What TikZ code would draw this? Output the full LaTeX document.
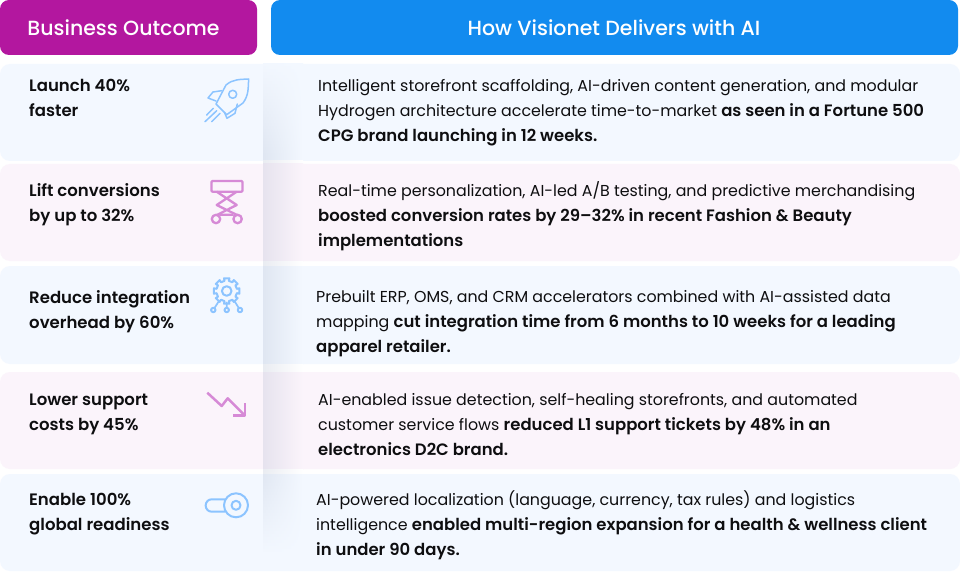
\documentclass[tikz,border=0pt]{standalone}
\usepackage{fontspec}
\setmainfont{Poppins}[BoldFont={Poppins SemiBold},BoldFeatures={Scale=1.04}]
\newfontfamily\headfont{Poppins Medium}
\definecolor{headpurple}{HTML}{B3179F}
\definecolor{headblue}{HTML}{128BEF}
\definecolor{rowblue}{HTML}{F3F8FF}
\definecolor{rowpink}{HTML}{FBF4FB}
\definecolor{iconblue}{HTML}{8CC4FF}
\definecolor{iconpink}{HTML}{D68AD6}
\definecolor{ink}{HTML}{0E0E10}
\definecolor{shadowc}{HTML}{8090B0}
% opaque shadow slices over one background band: from y #1 to y #2, background colour #3
\newcommand{\shadowband}[3]{%
  \pgfmathtruncatemacro{\nslices}{ceil((#2-#1)/3)-1}%
  \foreach \k in {0,...,\nslices}{
    \pgfmathsetmacro{\ya}{#1+3*\k}
    \pgfmathsetmacro{\yb}{min(\ya+3.4,#2)}
    \pgfmathsetmacro{\vv}{max(0,min(1,min((\ya+1.5-60)/95,(555-\ya-1.5)/85)))}
    \pgfmathsetmacro{\aa}{17*\vv}
    \pgfmathsetmacro{\bb}{4.5*\vv}
    \shade[left color=shadowc!\aa!#3,middle color=shadowc!\bb!#3,right color=#3]
      (263,\ya) rectangle (303,\yb);
  }%
}
\tikzset{
  x=1pt,y=-1pt,
  headbox/.style={rounded corners=9pt},
  rowbox/.style={rounded corners=10pt},
  headtext/.style={text=white,font=\headfont\fontsize{20.5}{24}\selectfont,inner sep=0pt},
  lefttext/.style={text=ink,anchor=north west,align=left,inner sep=0pt,font=\fontsize{15.9}{25}\selectfont\bfseries},
  righttext/.style={text=ink,anchor=north west,align=left,inner sep=0pt,font=\fontsize{15.85}{25}\selectfont},
  iconb/.style={draw=iconblue,line width=1.7pt,line join=round,line cap=round,fill=none},
  iconp/.style={draw=iconpink,line width=2.3pt,line join=round,fill=none},
}
\begin{document}
\begin{tikzpicture}
\useasboundingbox (0,0) rectangle (960,572);
\fill[white] (0,0) rectangle (960,572);
% headers
\fill[headpurple,headbox] (0,0) rectangle (257,55);
\fill[headblue,headbox] (271,0) rectangle (958,55);
\node[headtext] (h1) at (123.5,27.5) {Business Outcome};
\node[headtext] (h2) at (614,27.5) {How Visionet Delivers with AI};
% rows
\fill[rowblue,rowbox] (0,64) rectangle (960,161);
\fill[rowpink,rowbox] (0,164) rectangle (960,261);
\fill[rowblue,rowbox] (0,266) rectangle (960,364);
\fill[rowpink,rowbox] (0,372) rectangle (960,469);
\fill[rowblue,rowbox] (0,474) rectangle (960,571);
% shadow
\shadowband{64}{161}{rowblue}
\shadowband{161}{164}{white}
\shadowband{164}{261}{rowpink}
\shadowband{261}{266}{white}
\shadowband{266}{364}{rowblue}
\shadowband{364}{372}{white}
\shadowband{372}{469}{rowpink}
\shadowband{469}{474}{white}
\shadowband{474}{556}{rowblue}
% left labels
\node[lefttext] (l1) at (29,79) {Launch 40\%\\faster};
\node[lefttext] (l2) at (29,183) {Lift conversions\\by up to 32\%};
\node[lefttext] (l3) at (29,290) {Reduce integration\\overhead by 60\%};
\node[lefttext] (l4) at (29,394) {Lower support\\costs by 45\%};
\node[lefttext] (l5) at (29,493) {Enable 100\%\\global readiness};
% right text
\node[righttext] (r1) at (318,79) {Intelligent storefront scaffolding, AI-driven content generation, and modular\\Hydrogen architecture accelerate time-to-market \textbf{as seen in a Fortune 500}\\\textbf{CPG brand launching in 12 weeks.}};
\node[righttext] (r2) at (318,181) {Real-time personalization, AI-led A/B testing, and predictive merchandising\\\textbf{boosted conversion rates by 29–32\% in recent Fashion \& Beauty}\\\textbf{implementations}};
\node[righttext] (r3) at (316,290) {Prebuilt ERP, OMS, and CRM accelerators combined with AI-assisted data\\mapping \textbf{cut integration time from 6 months to 10 weeks for a leading}\\\textbf{apparel retailer.}};
\node[righttext] (r4) at (318,393) {AI-enabled issue detection, self-healing storefronts, and automated\\customer service flows \textbf{reduced L1 support tickets by 48\% in an}\\\textbf{electronics D2C brand.}};
\node[righttext] (r5) at (316,490) {AI-powered localization (language, currency, tax rules) and logistics\\intelligence \textbf{enabled multi-region expansion for a health \& wellness client}\\\textbf{in under 90 days.}};
% rocket
\draw[iconb,line width=1.5pt] (248.7,79) .. controls (240,79.5) and (233,79) .. (226,85) -- (216,104) -- (226.7,114.7) -- (243,103) .. controls (249,95) and (248,88) .. (248.7,79) -- cycle;
\draw[iconb,line width=1.5pt] (232.7,94.3) circle (4);
\draw[iconb,line width=1.5pt] (221.7,90.7) -- (213,92) -- (208,98) -- (216,101);
\draw[iconb,line width=1.5pt] (237.3,104) -- (235,113.3) -- (227,118.3) -- (224.5,112.5);
\draw[iconb,line width=1.5pt] (216.7,110.7) -- (205,121.7) (213.3,108.3) -- (206.7,115) (220,113.3) -- (211.7,121.7);
% lift
\draw[iconp,rounded corners=1pt] (211.5,181) rectangle (242.5,191.7);
\draw[iconp] (216.7,191.7) -- (236.7,205) -- (217,215) (236.7,191.7) -- (216.7,205) -- (237,215);
\draw[iconp] (216,219) circle (4.2) (237.6,219) circle (4.2) (220.2,214.8) -- (233.4,214.8);
% gear
\draw[iconb,line width=2pt] (226.7,291) ++(-12:10.4) -- ++(-12:2.6)
  \foreach \a in {0,45,...,315}{
    arc[start angle=\a-12,end angle=\a+12,radius=13] -- ++(\a+12:-2.6)
    arc[start angle=\a+12,end angle=\a+33,radius=10.4] -- ++(\a+33:2.6)
  };
\draw[iconb,line width=2pt] (226.7,291) circle (4.8);
\draw[iconb,line width=2pt] (213.3,310) circle (2.2) (226.7,310) circle (2.2) (240,310) circle (2.2);
\draw[iconb] (226.7,302.5) -- (226.7,307.8) (219,301) -- (214.5,308) (234.4,301) -- (238.8,308);
% arrow
\draw[iconp,line width=2.5pt] (207.3,392.7) -- (221.7,406) -- (227.7,398.3) -- (245,415.7);
\draw[iconp,line width=2.5pt] (245,403.3) -- (245,415.7) -- (232.7,415.7);
% toggle
\draw[iconb,line width=2pt,rounded corners=6pt] (225,499.3) -- (205.7,499.3) -- (205.7,511.7) -- (225,511.7);
\draw[iconb,line width=2pt] (236,505.3) circle (12) (236,505.3) circle (4.5);
\end{tikzpicture}
\end{document}
